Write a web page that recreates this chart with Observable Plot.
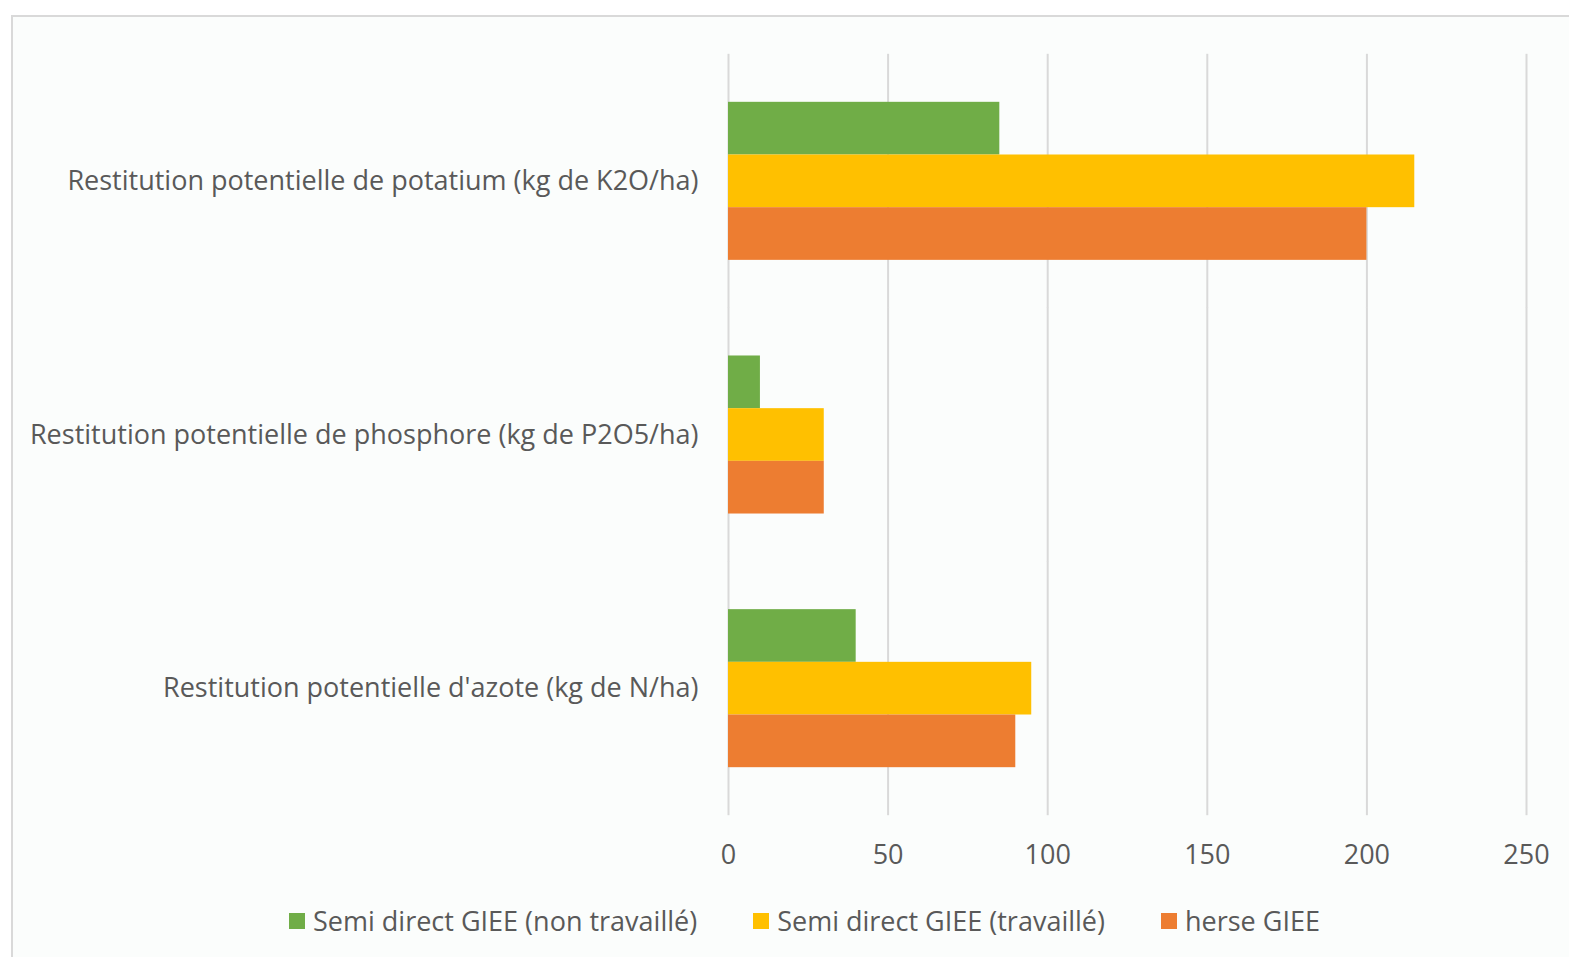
<!DOCTYPE html>
<html>
<head>
<meta charset="utf-8">
<script src="https://cdn.jsdelivr.net/npm/d3@7"></script>
<script src="https://cdn.jsdelivr.net/npm/@observablehq/plot@0.6"></script>
<style>
  html, body { margin: 0; padding: 0; background: #ffffff; width: 1569px; height: 957px; overflow: hidden; }
  #frame { position: absolute; left: 11px; top: 15px; width: 1600px; height: 1000px; background: #fbfdfc; border-left: 2px solid #d9d9d9; border-top: 2px solid #d9d9d9; }
  #chart { position: absolute; left: 0; top: 0; }
  #legend { position: absolute; left: 0; top: 902px; width: 1609px; display: flex; justify-content: center; align-items: center; font-family: "Open Sans", sans-serif; font-size: 27px; color: #595959; }
  .item { display: flex; align-items: center; margin: 0 28px; white-space: nowrap; }
  .sw { width: 16px; height: 16px; margin-right: 8px; }
</style>
</head>
<body>
<div id="frame"></div>
<div id="chart"></div>
<div id="legend"></div>
<script>
const categories = [
  "Restitution potentielle de potatium (kg de K2O/ha)",
  "Restitution potentielle de phosphore (kg de P2O5/ha)",
  "Restitution potentielle d'azote (kg de N/ha)"
];
const series = ["Semi direct GIEE (non travaillé)", "Semi direct GIEE (travaillé)", "herse GIEE"];
const colors = ["#70ad47", "#ffc000", "#ed7d31"];
const nonTravaille = [85, 10, 40];
const travaille = [215, 30, 95];
const herse = [200, 30, 90];
const xTicks = [0, 50, 100, 150, 200, 250];

const seriesValues = [nonTravaille, travaille, herse];
const data = [];
categories.forEach((c, i) => {
  series.forEach((s, j) => data.push({category: c, series: s, value: seriesValues[j][i]}));
});

const chart = Plot.plot({
  width: 1569,
  height: 880,
  marginLeft: 728,
  marginRight: 43,
  marginTop: 54,
  marginBottom: 65,
  style: {fontFamily: "Open Sans, sans-serif", fontSize: "27px", color: "#595959", background: "transparent"},
  x: {domain: [0, 250], ticks: xTicks, tickSize: 0, tickPadding: 77, label: null, tickFormat: d => String(d)},
  y: {domain: series, padding: 0, axis: null, round: false},
  fy: {domain: categories, paddingInner: 0.377, paddingOuter: 0.1885, round: false, axis: "left", tickSize: 0, tickPadding: 30, label: null},
  color: {domain: series, range: colors},
  marks: [
    Plot.ruleX(xTicks, {x: d => d, stroke: "#d9d9d9", strokeWidth: 2, insetTop: -48, insetBottom: -48}),
    Plot.barX(data, {x: "value", y: "series", fy: "category", fill: "series", inset: 0})
  ]
});
document.getElementById("chart").appendChild(chart);

const legend = document.getElementById("legend");
series.forEach((s, i) => {
  const item = document.createElement("div");
  item.className = "item";
  const sw = document.createElement("div");
  sw.className = "sw";
  sw.style.background = colors[i];
  const t = document.createElement("span");
  t.textContent = s;
  item.appendChild(sw);
  item.appendChild(t);
  legend.appendChild(item);
});
</script>
</body>
</html>
